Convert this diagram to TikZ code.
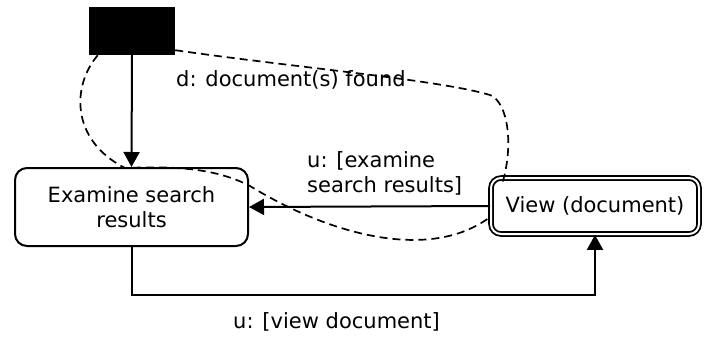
\documentclass[tikz,border=0pt]{standalone}
\usepackage{fontspec}
\setmainfont{DejaVu Sans}
\usetikzlibrary{arrows.meta}

\tikzset{
  txt/.style={font=\fontsize{21pt}{25pt}\selectfont, inner sep=0pt},
  statebox/.style={draw, line width=2pt, rounded corners=12pt, align=center,
    txt, minimum width=233pt, minimum height=78pt},
  finalbox/.style={draw, line width=1.8pt, double=white, double distance=2pt,
    rounded corners=10pt, txt, minimum width=208pt, minimum height=56pt},
  startbox/.style={fill=black, draw=none, minimum width=86pt, minimum height=48pt, inner sep=0pt},
  flow/.style={line width=2pt, -{Triangle[length=15pt,width=16pt]}},
  sysflow/.style={line width=1.7pt, dash pattern=on 8pt off 5pt},
}

\begin{document}
\begin{tikzpicture}[x=1pt,y=-1pt]
  \useasboundingbox (0,0) rectangle (709,338);

  % states
  \node[startbox] (src) at (132,31) {};
  \node[statebox] (ex) at (131.5,207) {Examine search\\results};
  \node[finalbox] (vw) at (595,206) {View (document)};

  % user transitions
  \draw[flow] (src.south) -- (ex.north);
  \draw[flow] (vw.west) -- (ex.east);
  \draw[flow] (ex.south) -- ++(0,48) -| (vw.south);

  % system responses
  \draw[sysflow] ([shift={(0,-5)}]src.south east)
    .. controls (300,68) and (440,80) .. (490,95)
    .. controls (508,102) and (514,145) .. ([shift={(12,7)}]vw.north west);
  \draw[sysflow] ([shift={(9,0)}]src.south west)
    .. controls (72,85) and (70,140) .. (125,168)
    .. controls (175,166) and (215,168) .. (250,186)
    .. controls (330,235) and (430,262) .. ([shift={(0,11)}]vw.west);

  % transition labels
  \node[txt, anchor=base west] (lbd) at (176,86) {d: document(s) found};
  \node[txt, anchor=base west, align=left] (lbe) at (307,192) {u: [examine\\search results]};
  \node[txt, anchor=base west] (lbv) at (233,328) {u: [view document]};
\end{tikzpicture}
\end{document}
